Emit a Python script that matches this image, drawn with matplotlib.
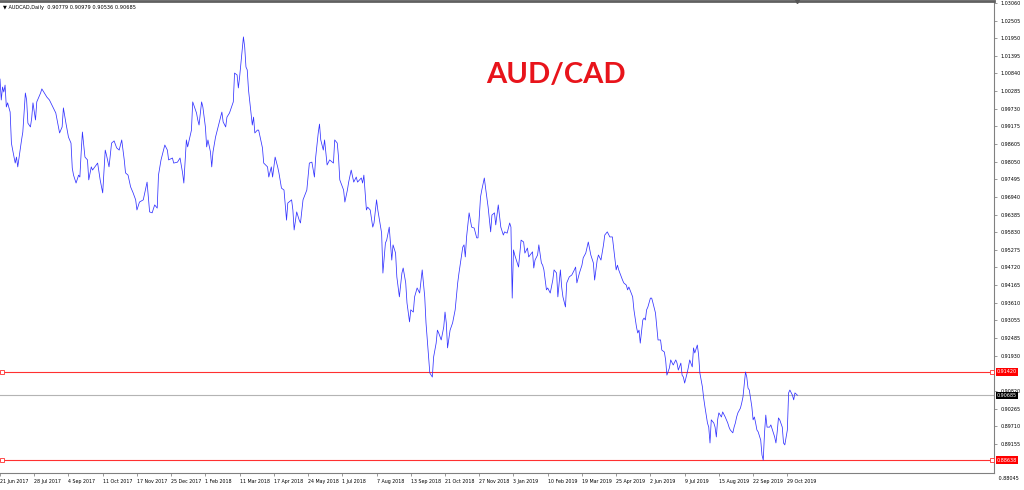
import numpy as np
import matplotlib
matplotlib.use("Agg")
import matplotlib.pyplot as plt

# AUDCAD daily closes (trading-day index, price)
days_a = [0, 1, 2, 3, 4, 5, 6, 8, 9, 10, 12, 13, 14, 17, 18, 20, 21, 22, 24, 25, 26, 28, 29, 32, 33, 35, 37,
          39, 42, 44, 47, 49, 50, 52, 54, 56, 57, 58, 60, 62, 63, 64, 65, 67, 69, 70, 72, 73, 77, 79, 81, 83,
          84, 86, 88, 90, 92, 94, 96, 98, 99, 101, 103, 105, 107, 108, 110, 113, 116, 118, 120, 122, 124]
close_a = [1.0066, 1.0000, 1.0041, 1.0025, 1.0047, 0.9978, 0.9991, 0.9962, 0.9864, 0.9842, 0.9801, 0.9820,
           0.9789, 0.9874, 0.9899, 1.0022, 1.0000, 0.9927, 0.9915, 0.9943, 0.9991, 0.9937, 0.9994, 1.0022,
           1.0035, 1.0022, 1.0009, 1.0000, 0.9975, 0.9959, 0.9896, 0.9915, 0.9975, 0.9927, 0.9883, 0.9864,
           0.9785, 0.9763, 0.9738, 0.9763, 0.9757, 0.9833, 0.9899, 0.9820, 0.9811, 0.9748, 0.9789, 0.9779,
           0.9801, 0.9748, 0.9707, 0.9842, 0.9826, 0.9789, 0.9864, 0.9871, 0.9849, 0.9842, 0.9874, 0.9811,
           0.9770, 0.9763, 0.9726, 0.9707, 0.9685, 0.9653, 0.9678, 0.9685, 0.9741, 0.9647, 0.9644, 0.9669,
           0.9659]

days_b = [125, 127, 129, 130, 132, 133, 136, 137, 140, 142, 144, 145, 147, 148, 151, 152, 155, 156, 157, 159,
          160, 162, 163, 164, 166, 167, 168, 170, 172, 175, 176, 178, 179, 181, 184, 185, 187, 188, 189, 191,
          192, 193, 194, 195, 196, 199, 200, 201, 203, 204, 207, 208, 211, 212, 214, 215, 217, 219, 220, 222,
          224, 226, 227, 230, 231, 232, 234, 236, 237, 239, 242, 244, 246, 248, 249, 251, 252, 253]
close_b = [0.9763, 0.9811, 0.9842, 0.9858, 0.9842, 0.9811, 0.9817, 0.9801, 0.9804, 0.9817, 0.9770, 0.9738,
           0.9874, 0.9852, 0.9905, 0.9994, 0.9959, 0.9937, 0.9921, 0.9994, 0.9978, 0.9915, 0.9852, 0.9874,
           0.9836, 0.9789, 0.9836, 0.9883, 0.9915, 0.9962, 0.9931, 0.9915, 0.9946, 0.9959, 0.9994, 1.0085,
           1.0079, 1.0038, 1.0073, 1.0158, 1.0199, 1.0167, 1.0104, 1.0095, 1.0032, 0.9921, 0.9946, 0.9896,
           0.9905, 0.9905, 0.9849, 0.9801, 0.9789, 0.9757, 0.9789, 0.9757, 0.9820, 0.9789, 0.9770, 0.9722,
           0.9716, 0.9621, 0.9675, 0.9685, 0.9653, 0.9590, 0.9647, 0.9621, 0.9612, 0.9685, 0.9716, 0.9801,
           0.9804, 0.9757, 0.9820, 0.9896, 0.9924, 0.9874]

days_c = [255, 256, 258, 260, 263, 264, 266, 267, 268, 271, 272, 274, 275, 277, 279, 281, 282, 285, 286, 287,
          289, 290, 292, 294, 295, 297, 298, 301, 302, 304, 305, 307, 309, 310, 312, 313, 315, 317, 318, 320,
          321, 323, 324, 326, 327, 329, 331, 333, 335, 336, 338, 339, 341, 342, 344, 345, 346, 348, 350, 351,
          352, 353, 355, 357, 359, 361, 362, 365, 366, 367, 368, 370, 372, 374, 376, 377, 379, 380, 382]
close_c = [0.9842, 0.9874, 0.9795, 0.9811, 0.9801, 0.9874, 0.9864, 0.9820, 0.9748, 0.9716, 0.9678, 0.9716,
           0.9741, 0.9779, 0.9741, 0.9757, 0.9741, 0.9754, 0.9738, 0.9763, 0.9653, 0.9662, 0.9653, 0.9599,
           0.9612, 0.9685, 0.9653, 0.9580, 0.9454, 0.9549, 0.9558, 0.9599, 0.9495, 0.9543, 0.9517, 0.9442,
           0.9379, 0.9454, 0.9470, 0.9423, 0.9360, 0.9300, 0.9338, 0.9331, 0.9379, 0.9407, 0.9391, 0.9464,
           0.9379, 0.9297, 0.9189, 0.9139, 0.9126, 0.9189, 0.9233, 0.9274, 0.9265, 0.9243, 0.9284, 0.9331,
           0.9297, 0.9218, 0.9274, 0.9297, 0.9338, 0.9423, 0.9454, 0.9536, 0.9543, 0.9505, 0.9568, 0.9644,
           0.9599, 0.9596, 0.9565, 0.9565, 0.9694, 0.9716, 0.9754]

days_d = [383, 385, 387, 388, 390, 391, 393, 395, 397, 398, 400, 402, 403, 404, 405, 406, 408, 409, 411, 413,
          414, 416, 417, 420, 421, 422, 424, 425, 427, 428, 429, 431, 432, 434, 436, 437, 439, 440, 442, 443,
          444, 446, 447, 449, 451, 453, 454, 455, 457, 459, 460, 462, 464, 466, 468, 469, 471, 472, 474, 476,
          477, 479, 481, 483, 484, 486, 487, 488, 491, 492, 494, 495, 496, 499, 500, 502, 503, 504, 505]
close_d = [0.9722, 0.9662, 0.9584, 0.9637, 0.9644, 0.9606, 0.9669, 0.9599, 0.9574, 0.9584, 0.9580, 0.9612,
           0.9599, 0.9375, 0.9527, 0.9511, 0.9486, 0.9473, 0.9558, 0.9552, 0.9517, 0.9533, 0.9505, 0.9521,
           0.9470, 0.9495, 0.9511, 0.9543, 0.9486, 0.9479, 0.9464, 0.9401, 0.9407, 0.9391, 0.9432, 0.9464,
           0.9454, 0.9379, 0.9464, 0.9410, 0.9379, 0.9347, 0.9423, 0.9442, 0.9448, 0.9464, 0.9473, 0.9423,
           0.9454, 0.9479, 0.9502, 0.9517, 0.9552, 0.9511, 0.9486, 0.9432, 0.9495, 0.9511, 0.9495, 0.9543,
           0.9574, 0.9584, 0.9568, 0.9568, 0.9533, 0.9464, 0.9479, 0.9464, 0.9432, 0.9423, 0.9416, 0.9401,
           0.9410, 0.9379, 0.9338, 0.9284, 0.9265, 0.9274, 0.9233]

days_e = [507, 508, 509, 510, 511, 513, 514, 515, 517, 518, 519, 521, 522, 524, 525, 526, 528, 529, 531, 533,
          534, 535, 537, 538, 539, 540, 542, 543, 544, 546, 547, 548, 550, 551, 552, 554, 555, 556, 558, 559,
          560, 561, 563, 564, 565, 566, 567, 569, 570, 572, 574, 575, 576, 578, 579, 580, 581, 582, 584, 585,
          586, 588, 589, 590, 591, 593, 594, 595, 596, 597, 598, 600, 601, 602, 603, 604, 605, 607, 608, 610,
          611, 612, 613, 614, 615, 617, 618, 619, 621, 622, 623, 625, 626, 627, 629]
close_e = [0.9306, 0.9312, 0.9306, 0.9338, 0.9347, 0.9375, 0.9375, 0.9360, 0.9328, 0.9284, 0.9243, 0.9243,
           0.9211, 0.9205, 0.9180, 0.9132, 0.9155, 0.9180, 0.9164, 0.9180, 0.9170, 0.9148, 0.9170, 0.9132,
           0.9126, 0.9107, 0.9139, 0.9158, 0.9180, 0.9158, 0.9218, 0.9202, 0.9227, 0.9196, 0.9139, 0.9095,
           0.9060, 0.9032, 0.8981, 0.8968, 0.8918, 0.8991, 0.8981, 0.8968, 0.8937, 0.8991, 0.9013, 0.9000,
           0.9016, 0.9000, 0.8981, 0.8968, 0.8959, 0.8950, 0.8968, 0.8981, 0.9000, 0.9013, 0.9028, 0.9044,
           0.9063, 0.9142, 0.9126, 0.9091, 0.9085, 0.9032, 0.8991, 0.9000, 0.8981, 0.8959, 0.8953, 0.8927,
           0.8880, 0.8864, 0.8950, 0.9006, 0.8968, 0.8968, 0.8975, 0.8950, 0.8937, 0.8918, 0.8953, 0.8997,
           0.8991, 0.8968, 0.8918, 0.8912, 0.8959, 0.9076, 0.9085, 0.9069, 0.9054, 0.9076, 0.90685]

date_labels = ["21 Jun 2017", "28 Jul 2017", "4 Sep 2017", "11 Oct 2017", "17 Nov 2017", "25 Dec 2017",
               "1 Feb 2018", "11 Mar 2018", "17 Apr 2018", "24 May 2018", "1 Jul 2018", "7 Aug 2018",
               "13 Sep 2018", "21 Oct 2018", "27 Nov 2018", "3 Jan 2019", "10 Feb 2019", "19 Mar 2019",
               "25 Apr 2019", "2 Jun 2019", "9 Jul 2019", "15 Aug 2019", "22 Sep 2019", "29 Oct 2019"]
bars_per_label = 27

# price scale labels (the ones hidden under the level boxes are left out)
price_ticks = ["1.03060", "1.02505", "1.01950", "1.01395", "1.00840", "1.00285", "0.99730", "0.99175",
               "0.98605", "0.98050", "0.97495", "0.96940", "0.96385", "0.95830", "0.95275", "0.94720",
               "0.94165", "0.93610", "0.93055", "0.92485", "0.91930", "0.90820", "0.90265",
               "0.89710", "0.89155", "0.88045"]

resistance = 0.91420
support = 0.88638
last_price = 0.90685
ohlc = [0.90779, 0.90979, 0.90536, 0.90685]

days = days_a + days_b + days_c + days_d + days_e
close = close_a + close_b + close_c + close_d + close_e
assert len(days) == len(close)

W, H = 1024, 490
fig = plt.figure(figsize=(W / 100, H / 100), dpi=100)
ax = fig.add_axes([0, 17 / H, 994 / W, 1 - 18 / H])

ax.plot(days, close, color="#3333ff", lw=0.55, zorder=3)

ax.axhline(last_price, color="#b4b4b4", lw=0.8, zorder=2)
for lvl in (resistance, support):
    ax.axhline(lvl, color="#ff3030", lw=0.8, zorder=2)
    ax.plot([0.002, 0.998], [lvl, lvl], ls="none", marker="s", ms=2.2, mfc="white", mec="#ff3030",
            mew=0.6, transform=ax.get_yaxis_transform(), clip_on=False, zorder=4)

ax.set_xlim(0, 784)
ax.set_ylim(0.88233, 1.03123)

# x axis
ax.set_xticks(np.arange(len(date_labels)) * bars_per_label)
ax.set_xticklabels(date_labels, ha="left", fontsize=3.4, family="DejaVu Sans")
ax.tick_params(axis="x", length=2.5, width=0.5, color="#707070", pad=2)

# y axis on the right
vals = [float(t) for t in price_ticks]
lo, hi = ax.get_ylim()
inside = [(v, t) for v, t in zip(vals, price_ticks) if lo <= v <= hi]
ax.yaxis.tick_right()
ax.set_yticks([v for v, t in inside])
ax.set_yticklabels([t for v, t in inside], fontsize=3.5, family="DejaVu Sans")
ax.tick_params(axis="y", length=2, width=0.5, color="#707070", pad=3)
for v, t in zip(vals, price_ticks):
    if not lo <= v <= hi:
        ax.text(1.0, v, "   " + t, transform=ax.get_yaxis_transform(), fontsize=3.5,
                va="center", ha="left", clip_on=False)

for lvl, bg in ((resistance, "#ff0000"), (support, "#ff0000"), (last_price, "black")):
    ax.text(1.003, lvl, "%.5f" % lvl, transform=ax.get_yaxis_transform(), fontsize=3.5, color="white",
            va="center", ha="left", clip_on=False, zorder=6,
            bbox=dict(boxstyle="square,pad=0.25", fc=bg, ec="none"))

ax.spines["left"].set_visible(False)
ax.spines["right"].set_color("#808080")
ax.spines["right"].set_linewidth(0.8)
ax.spines["bottom"].set_color("#808080")
ax.spines["bottom"].set_linewidth(0.8)
ax.spines["top"].set_color("#606060")
ax.spines["top"].set_linewidth(2)

# shift marker at top
ax.plot([days[-1]], [1.0], marker="v", ms=3, color="#555555", transform=ax.get_xaxis_transform(),
        clip_on=False, zorder=5)

fig.text(3 / W, 1 - 8 / H, "\u25bc AUDCAD,Daily  " + " ".join("%.5f" % v for v in ohlc),
         fontsize=3.6, va="center", ha="left")

ax.text(0.559, 0.843, "AUD/CAD", color="#e8141b", fontsize=21, fontweight="bold", family="Lato",
        ha="center", va="center", transform=ax.transAxes)

fig.savefig("out.png", dpi=100)
